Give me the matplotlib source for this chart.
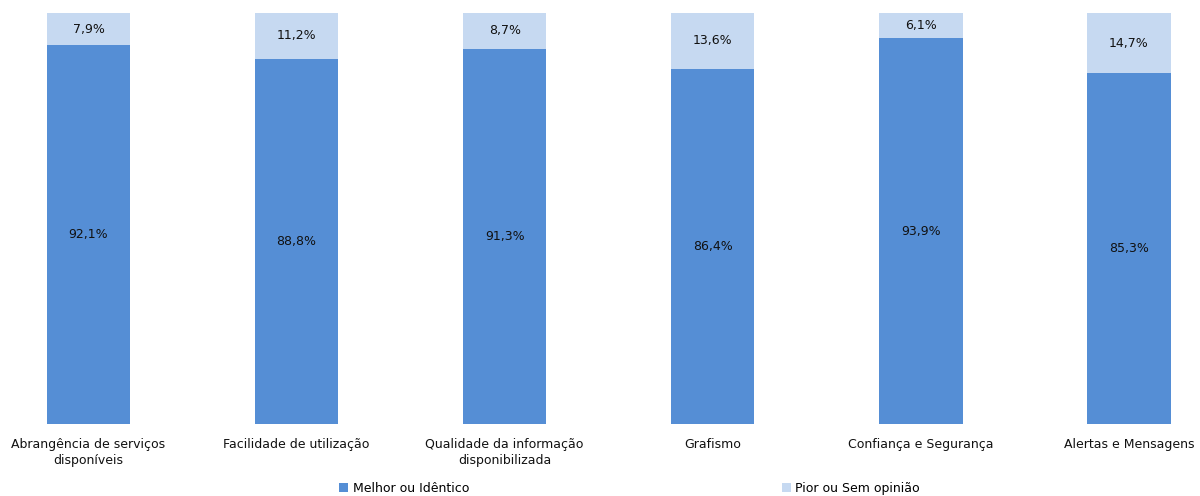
import matplotlib
matplotlib.use('Agg')

import matplotlib.pyplot as plt
import numpy as np

categories = ['Abrangência de serviços\ndisponíveis', 'Facilidade de utilização',
              'Qualidade da informação\ndisponibilizada', 'Grafismo',
              'Confiança e Segurança', 'Alertas e Mensagens']
melhor = [92.1, 88.8, 91.3, 86.4, 93.9, 85.3]
pior = [7.9, 11.2, 8.7, 13.6, 6.1, 14.7]
names = ['Melhor ou Idêntico', 'Pior ou Sem opinião']
colors = ['#558ed5', '#c6d9f1']

plt.rcParams['font.family'] = ['DejaVu Sans']

fig = plt.figure(figsize=(12, 4.96), dpi=100)
ax = fig.add_axes([0, 0.145, 1, 0.829])

x = np.arange(len(categories))
w = 0.40
ax.bar(x, melhor, w, color=colors[0], label=names[0])
ax.bar(x, pior, w, bottom=melhor, color=colors[1], label=names[1])

for i in range(len(x)):
  ax.text(x[i], melhor[i] / 2, '{:.1f}%'.format(melhor[i]).replace('.', ','),
          ha='center', va='center', fontsize=9, color='#111111')
  ax.text(x[i], melhor[i] + pior[i] / 2, '{:.1f}%'.format(pior[i]).replace('.', ','),
          ha='center', va='center', fontsize=9, color='#111111')

ax.set_xlim(-0.425, 5.341)
ax.set_ylim(0, 100)
ax.set_xticks(x)
ax.set_xticklabels(categories, fontsize=9, color='#111111', linespacing=1.35)
ax.tick_params(axis='x', length=0, pad=10)
ax.set_yticks([])
for s in ax.spines.values():
  s.set_visible(False)

fig.legend(loc='center', bbox_to_anchor=(0.5245, 0.016), ncol=2, frameon=False,
           fontsize=9, handlelength=0.75, handleheight=0.75, handletextpad=0.35,
           columnspacing=25.0)

fig.savefig('out.png', dpi=100)
